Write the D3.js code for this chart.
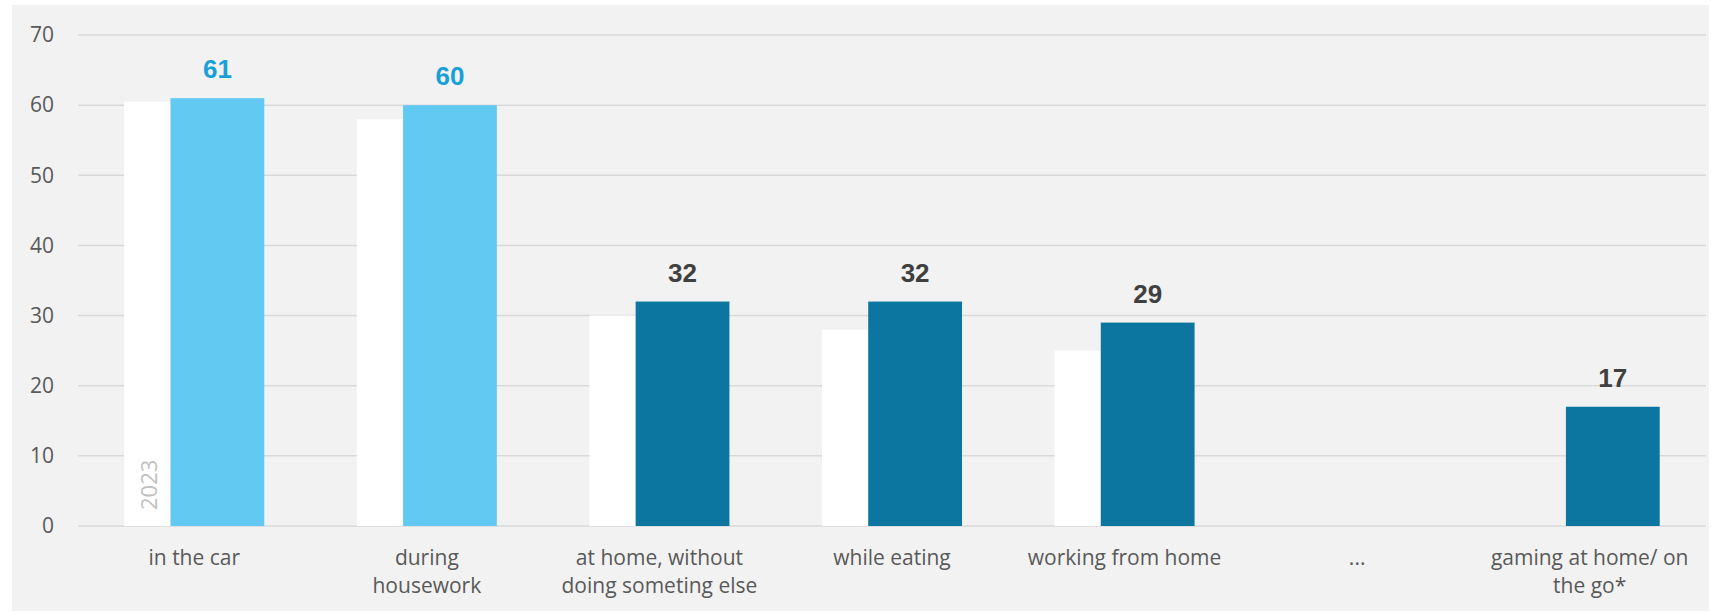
<!DOCTYPE html>
<html>
<head>
<meta charset="utf-8">
<script src="https://cdn.jsdelivr.net/npm/d3@7"></script>
<style>
  html, body { margin: 0; padding: 0; background: #fff; }
  svg { display: block; }
</style>
</head>
<body>
<svg id="chart" width="1714" height="613"></svg>
<script>
var categories = ['in the car', 'during housework', 'at home, without doing someting else',
  'while eating', 'working from home', '...', 'gaming at home/ on the go*'];
var labelLines = [['in the car'], ['during', 'housework'], ['at home, without', 'doing someting else'],
  ['while eating'], ['working from home'], ['...'], ['gaming at home/ on', 'the go*']];
var values2023 = [60.5, 58, 30, 28, 25, null, null];
var values2024 = [61, 60, 32, 32, 29, null, 17];
var highlight = [true, true, false, false, false, false, false];
var yTicks = [0, 10, 20, 30, 40, 50, 60, 70];

var svg = d3.select('#chart');
var font = '"Open Sans", "Noto Sans", sans-serif';
var boldFont = '"Liberation Sans", Arial, sans-serif';

svg.append('rect')
  .attr('x', 12).attr('y', 5)
  .attr('width', 1697).attr('height', 606)
  .attr('fill', '#f2f2f2');

var x = d3.scaleBand()
  .domain(categories)
  .range([78, 1706])
  .paddingInner(0.398)
  .paddingOuter(0.199);

var y = d3.scaleLinear()
  .domain([0, 70])
  .range([526, 35]);

var barW = x.bandwidth() * 0.67;

// gridlines
svg.append('g')
  .selectAll('line')
  .data(yTicks)
  .enter().append('line')
  .attr('x1', 78).attr('x2', 1706)
  .attr('y1', function(d) { return y(d); })
  .attr('y2', function(d) { return y(d); })
  .attr('stroke', '#d9d9d9')
  .attr('stroke-width', 1.5);

// y axis labels
var yAxis = d3.axisLeft(y).tickValues(yTicks).tickSize(0).tickPadding(0);
var yg = svg.append('g').attr('transform', 'translate(54,0)').call(yAxis);
yg.select('.domain').remove();
yg.selectAll('text')
  .attr('font-family', font)
  .attr('font-size', 21)
  .attr('fill', '#595959');

// 2023 bars (behind)
svg.append('g')
  .selectAll('rect')
  .data(categories)
  .enter().filter(function(d, i) { return values2023[i] != null; })
  .append('rect')
  .attr('x', function(d) { return x(d); })
  .attr('width', barW)
  .attr('y', function(d) { return y(values2023[categories.indexOf(d)]); })
  .attr('height', function(d) { return y(0) - y(values2023[categories.indexOf(d)]); })
  .attr('fill', '#ffffff');

// 2024 bars
svg.append('g')
  .selectAll('rect')
  .data(categories)
  .enter().filter(function(d, i) { return values2024[i] != null; })
  .append('rect')
  .attr('x', function(d) { return x(d) + x.bandwidth() - barW; })
  .attr('width', barW)
  .attr('y', function(d) { return y(values2024[categories.indexOf(d)]); })
  .attr('height', function(d) { return y(0) - y(values2024[categories.indexOf(d)]); })
  .attr('fill', function(d) { return highlight[categories.indexOf(d)] ? '#62caf2' : '#0c76a0'; });

// value labels
svg.append('g')
  .selectAll('text')
  .data(categories)
  .enter().filter(function(d, i) { return values2024[i] != null; })
  .append('text')
  .attr('x', function(d) { return x(d) + x.bandwidth() - barW / 2; })
  .attr('y', function(d) { return y(values2024[categories.indexOf(d)]) - 20; })
  .attr('text-anchor', 'middle')
  .attr('font-family', boldFont)
  .attr('font-weight', 'bold')
  .attr('font-size', 26)
  .attr('fill', function(d) { return highlight[categories.indexOf(d)] ? '#1aa0d8' : '#404040'; })
  .text(function(d) { return values2024[categories.indexOf(d)]; });

// series name inside first 2023 bar
svg.append('text')
  .attr('transform', 'translate(' + (x(categories[0]) + 33) + ',' + (y(0) - 16) + ') rotate(-90)')
  .attr('font-family', font)
  .attr('font-size', 22)
  .attr('fill', '#c0c0c0')
  .text('2023');

// category labels
var xl = svg.append('g')
  .selectAll('text')
  .data(categories)
  .enter().append('text')
  .attr('x', function(d) { return x(d) + x.bandwidth() / 2; })
  .attr('y', 565)
  .attr('text-anchor', 'middle')
  .attr('font-family', font)
  .attr('font-size', 21)
  .attr('fill', '#595959');
xl.selectAll('tspan')
  .data(function(d) { return labelLines[categories.indexOf(d)]; })
  .enter().append('tspan')
  .attr('x', function() { return d3.select(this.parentNode).attr('x'); })
  .attr('dy', function(d, i) { return i === 0 ? 0 : 28; })
  .text(function(d) { return d; });
</script>
</body>
</html>
